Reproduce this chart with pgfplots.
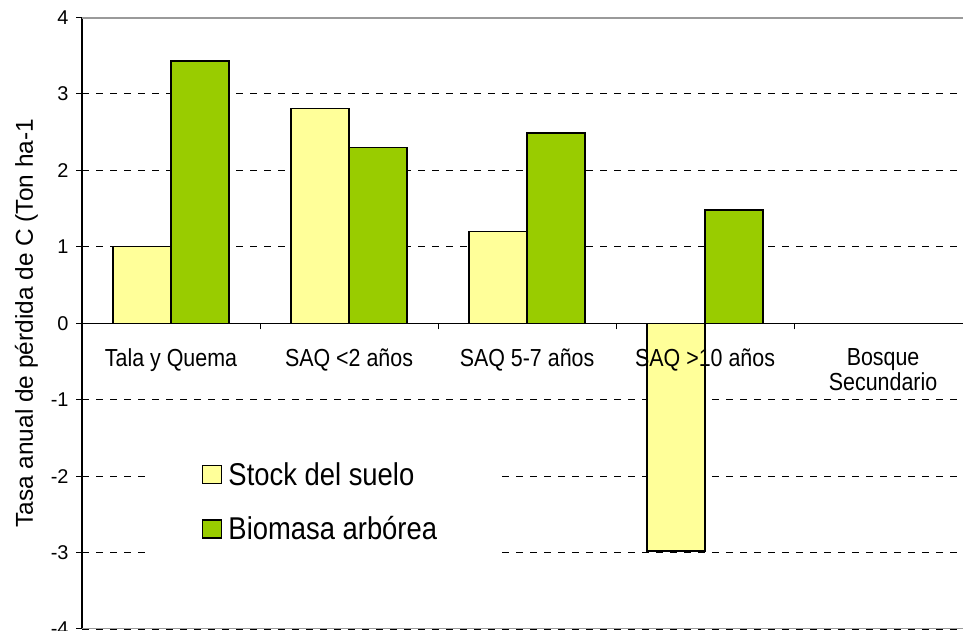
\documentclass[border=0pt]{standalone}
\usepackage{fontspec}
\setmainfont{Liberation Sans}
\usepackage{graphicx}
\usepackage{pgfplots}
\pgfplotsset{compat=1.18}
\definecolor{suelo}{HTML}{FFFF99}
\definecolor{biomasa}{HTML}{99CC00}
\definecolor{borde}{HTML}{9A9A9A}
\pgfplotsset{
  cuadro/.style={legend image code/.code={\draw[##1] (0bp,-9bp) rectangle (19bp,9bp); \path (23bp,0bp);}},
}
\newcommand\alto[1]{\scalebox{1}[1.15]{#1}}
\newcommand\fcat{\fontsize{21.5}{24.5}\selectfont}

\pgfplotstableread{
x suelo biomasa
0 1.00 3.43
1 2.81 2.30
2 1.20 2.49
3 -2.98 1.48
4 0 0
}\datos

\begin{document}
\begin{tikzpicture}
\useasboundingbox (0,0) rectangle (963bp,631bp);
\begin{axis}[
  at={(82bp,2bp)}, anchor=south west,
  scale only axis, width=881bp, height=611.5bp,
  xmin=-0.5, xmax=4.449, ymin=-4, ymax=4,
  axis x line=middle, axis y line=left,
  axis line style={-, black, line width=1.3bp},
  ybar=0pt, bar width=58bp,
  xtick={0.5,1.5,2.5,3.5}, xticklabels={},
  extra x ticks={0,1,2,3,4},
  extra x tick labels={\alto{Tala y Quema}, \alto{SAQ <2 años}, \alto{SAQ 5-7 años}, {},
    {\alto{Bosque}\\\alto{Secundario}}},
  extra x tick style={major tick length=0pt, grid=none},
  xticklabel style={font=\fcat, align=center, yshift=-22bp},
  ytick={-4,...,4},
  tick align=outside, major tick length=6bp,
  tick style={black, line width=1bp},
  yticklabel style={font=\fontsize{20}{22}\selectfont, xshift=-4bp},
  /pgf/number format/assume math mode=true,
  ymajorgrids, grid style={black, dash pattern=on 7bp off 7bp, line width=0.9bp},
  ylabel={Tasa anual de pérdida de C (Ton ha-1},
  ylabel style={font=\fontsize{24.5}{27}\selectfont, at={(axis description cs:-0.063,0.5)}, anchor=center},
  legend style={at={(axis description cs:0.0715,0.325)}, anchor=north west,
    draw=none, fill=white, inner xsep=57bp, inner ysep=30bp,
    font=\fontsize{27.5}{31}\selectfont, row sep=26bp, cells={anchor=west}},
]
\addplot[fill=suelo, draw=black, line width=1.3bp, cuadro]
  table[x=x, y=suelo] {\datos};
\addplot[fill=biomasa, draw=black, line width=1.3bp, cuadro]
  table[x=x, y=biomasa] {\datos};
\legend{\alto{Stock del suelo}, \alto{Biomasa arbórea}}
\draw[borde, line width=2.5bp] (rel axis cs:0,1) -- (rel axis cs:1,1);
\draw[borde, line width=2.5bp] (rel axis cs:0,0) -- (rel axis cs:1,0);
\node[font=\fcat, anchor=north, inner sep=0.3333em, yshift=-22bp] at (axis cs:3,0) {\alto{SAQ >10 años}};
\end{axis}
\end{tikzpicture}
\end{document}
